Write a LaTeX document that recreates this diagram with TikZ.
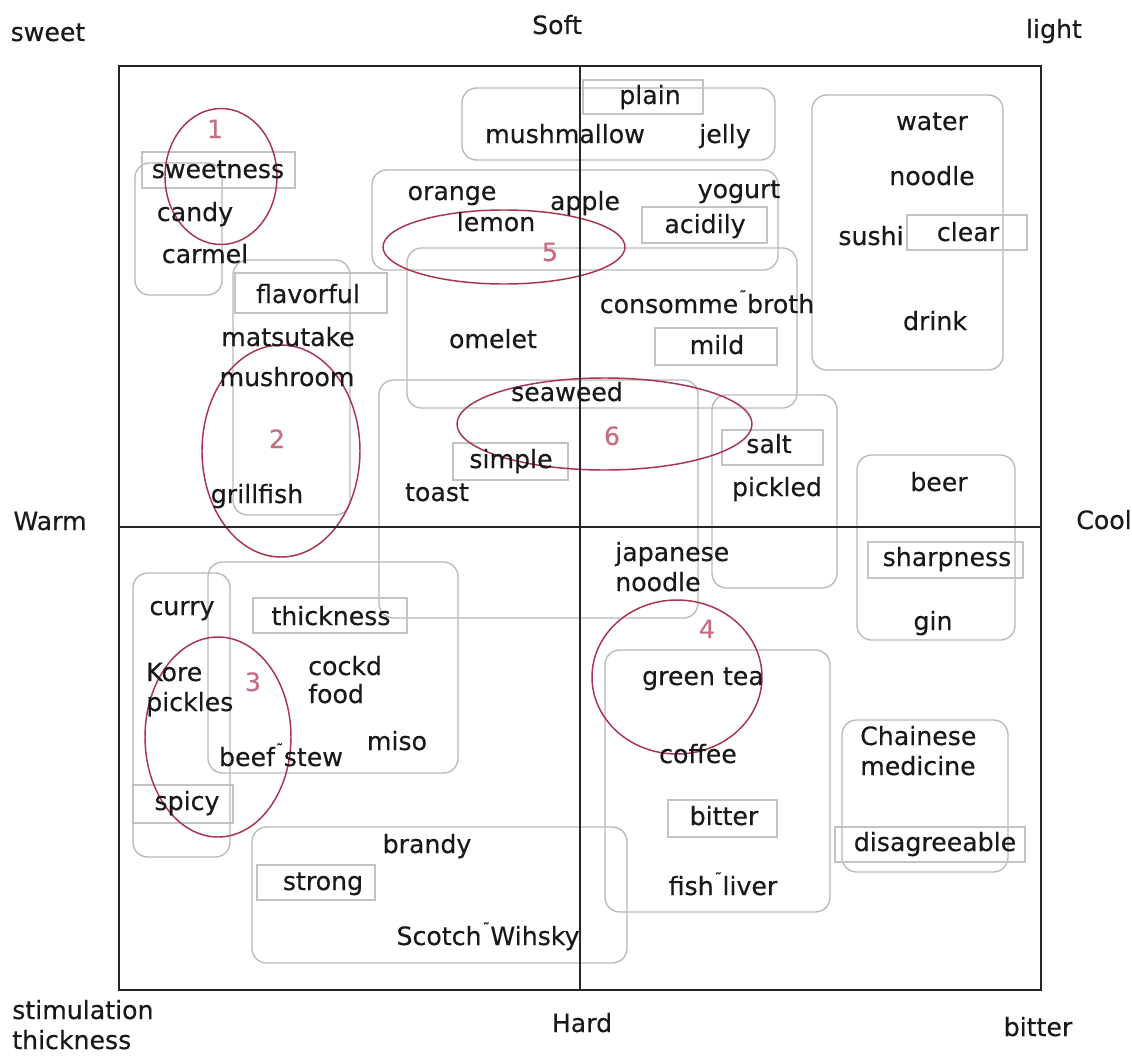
\documentclass[tikz,border=0pt]{standalone}
\usepackage{fontspec}
\setmainfont{DejaVu Sans}[FakeBold=0.35]
\definecolor{ringc}{RGB}{168,52,78}
\definecolor{numc}{RGB}{196,110,128}
\definecolor{grpc}{RGB}{185,185,185}
\definecolor{tagc}{RGB}{195,195,195}
\newcommand{\jmk}{\kern0.04em\raisebox{0.45em}{\fontsize{11}{11}\selectfont ˜}\kern0.02em}
\begin{document}
\begin{tikzpicture}[x=0.75pt,y=-0.75pt,
  lbl/.style={inner sep=0pt, anchor=base, yshift=-6pt,
              font=\fontsize{18.9}{22}\selectfont, text=black!90},
  lleft/.style={lbl, anchor=base west},
  num/.style={lbl, text=numc},
  grp/.style={draw=grpc, line width=1pt, rounded corners=11pt},
  tagbox/.style={draw=tagc, line width=0.8pt},
  ring/.style={draw=ringc, line width=1.1pt},
  axis/.style={draw=black!85, line width=1.6pt}]
\useasboundingbox (0,0) rectangle (1132,1056);
\fill[white] (0,0) rectangle (1132,1056);

% group boxes
\draw[grp] (135,163) rectangle (222,295);
\draw[grp] (233,260) rectangle (350,515);
\draw[grp] (462,88) rectangle (775,160);
\draw[grp] (372,170) rectangle (778,270);
\draw[grp] (407,248) rectangle (797,408);
\draw[grp] (812,95) rectangle (1003,370);
\draw[grp] (379,380) rectangle (698,618);
\draw[grp] (712,395) rectangle (837,588);
\draw[grp] (857,455) rectangle (1015,640);
\draw[grp] (133,573) rectangle (230,857);
\draw[grp] (208,562) rectangle (458,773);
\draw[grp] (252,827) rectangle (627,963);
\draw[grp] (605,650) rectangle (830,912);
\draw[grp] (842,720) rectangle (1008,872);

% tag rectangles
\draw[tagbox] (142,152) rectangle (295,188);
\draw[tagbox] (235,273) rectangle (387,313);
\draw[tagbox] (583,80) rectangle (703,114);
\draw[tagbox] (642,207) rectangle (767,243);
\draw[tagbox] (907,215) rectangle (1027,250);
\draw[tagbox] (655,328) rectangle (777,365);
\draw[tagbox] (453,443) rectangle (568,480);
\draw[tagbox] (722,430) rectangle (823,465);
\draw[tagbox] (868,542) rectangle (1023,578);
\draw[tagbox] (253,598) rectangle (407,633);
\draw[tagbox] (133,785) rectangle (233,823);
\draw[tagbox] (257,865) rectangle (375,900);
\draw[tagbox] (668,800) rectangle (777,837);
\draw[tagbox] (835,827) rectangle (1025,862);

% red rings
\draw[ring] (221,176.5) ellipse [x radius=56, y radius=68];
\draw[ring] (281,451) ellipse [x radius=79, y radius=106];
\draw[ring] (218,737) ellipse [x radius=73, y radius=100];
\draw[ring] (677,677) ellipse [x radius=85, y radius=77];
\draw[ring] (504,247) ellipse [x radius=121, y radius=37];
\draw[ring] (604.5,424) ellipse [x radius=147.5, y radius=46];

% frame and axes
\draw[axis] (119,66) rectangle (1041,990);
\draw[axis] (580,66) -- (580,990);
\draw[axis] (119,527) -- (1041,527);

% ring numbers
\node[num] (n1) at (215,130) {1};
\node[num] (n2) at (277,440) {2};
\node[num] (n3) at (253,683) {3};
\node[num] (n4) at (707,630) {4};
\node[num] (n5) at (550,253) {5};
\node[num] (n6) at (612,437) {6};

% axis labels
\node[lbl] (sweet) at (48,33) {sweet};
\node[lbl] (soft) at (557,26) {Soft};
\node[lbl] (light) at (1054,30) {light};
\node[lbl] (warm) at (50,522) {Warm};
\node[lbl] (cool) at (1104,521) {Cool};
\node[lleft] (stim) at (12,1011) {stimulation};
\node[lleft] (thick) at (12,1041) {thickness};
\node[lbl] (hard) at (582,1024) {Hard};
\node[lbl] (bitterax) at (1038,1028) {bitter};

% words
\node[lbl] (sweetness) at (218,170) {sweetness};
\node[lbl] (candy) at (195,213) {candy};
\node[lbl] (carmel) at (205,255) {carmel};
\node[lbl] (flavorful) at (308,295) {flavorful};
\node[lbl] (matsutake) at (288,338) {matsutake};
\node[lbl] (mushroom) at (287,378) {mushroom};
\node[lbl] (grillfish) at (257,495) {grillfish};
\node[lbl] (plain) at (650,96) {plain};
\node[lbl] (mushmallow) at (565,135) {mushmallow};
\node[lbl] (jelly) at (725,135) {jelly};
\node[lbl] (orange) at (452,192) {orange};
\node[lbl] (lemon) at (496,223) {lemon};
\node[lbl] (apple) at (585,202) {apple};
\node[lbl] (yogurt) at (739,190) {yogurt};
\node[lbl] (acidily) at (705,225) {acidily};
\node[lbl] (water) at (932,122) {water};
\node[lbl] (noodle) at (932,177) {noodle};
\node[lbl] (sushi) at (871,237) {sushi};
\node[lbl] (clear) at (968,233) {clear};
\node[lbl] (drink) at (935,322) {drink};
\node[lbl] (consomme) at (707,305) {consomme\jmk broth};
\node[lbl] (mild) at (717,346) {mild};
\node[lbl] (omelet) at (493,340) {omelet};
\node[lbl] (seaweed) at (567,393) {seaweed};
\node[lbl] (simple) at (511,460) {simple};
\node[lbl] (toast) at (437,493) {toast};
\node[lbl] (salt) at (769,445) {salt};
\node[lbl] (pickled) at (777,488) {pickled};
\node[lbl] (beer) at (939,483) {beer};
\node[lleft] (japanese) at (615,553) {japanese};
\node[lleft] (jnoodle) at (615,583) {noodle};
\node[lbl] (sharpness) at (947,558) {sharpness};
\node[lbl] (gin) at (933,622) {gin};
\node[lbl] (curry) at (182,607) {curry};
\node[lbl] (thickness) at (331,617) {thickness};
\node[lleft] (kore) at (146,673) {Kore};
\node[lleft] (pickles) at (146,703) {pickles};
\node[lleft] (cockd) at (308,667) {cockd};
\node[lleft] (food) at (308,695) {food};
\node[lbl] (miso) at (397,742) {miso};
\node[lbl] (beefstew) at (281,758) {beef\jmk stew};
\node[lbl] (spicy) at (187,802) {spicy};
\node[lbl] (brandy) at (427,845) {brandy};
\node[lbl] (strong) at (323,882) {strong};
\node[lbl] (scotch) at (488,937) {Scotch\jmk Wihsky};
\node[lbl] (greentea) at (703,677) {green tea};
\node[lbl] (coffee) at (698,755) {coffee};
\node[lbl] (bitter) at (724,817) {bitter};
\node[lbl] (fishliver) at (723,887) {fish\jmk liver};
\node[lleft] (chainese) at (860,737) {Chainese};
\node[lleft] (medicine) at (860,767) {medicine};
\node[lbl] (disagree) at (935,843) {disagreeable};
\end{tikzpicture}
\end{document}
